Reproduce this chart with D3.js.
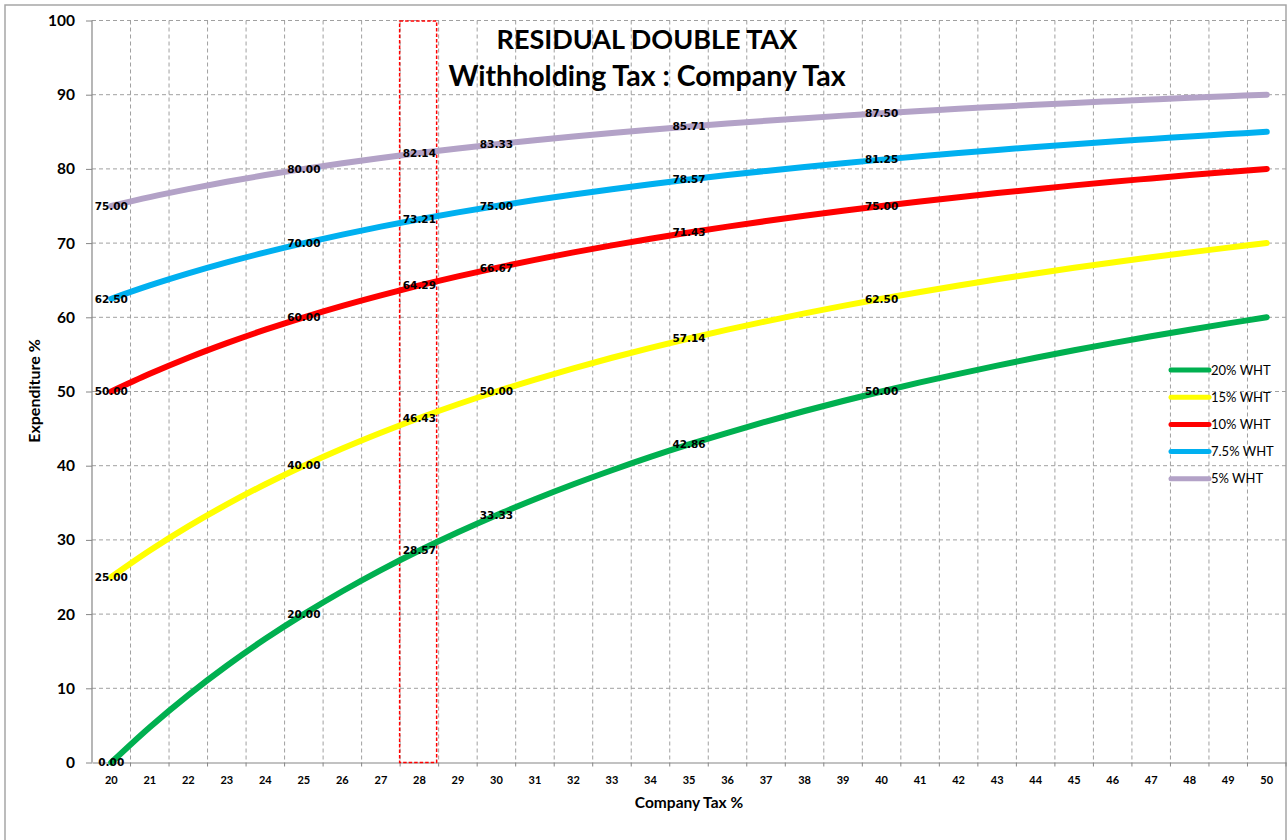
<!DOCTYPE html>
<html>
<head>
<meta charset="utf-8">
<script src="https://cdn.jsdelivr.net/npm/d3@7"></script>
<style>
  html, body { margin: 0; padding: 0; background: #fff; }
  svg { display: block; }
</style>
</head>
<body>
<svg id="chart" width="1287" height="840"></svg>
<script>
// Company tax rates (x categories)
const companyTax = d3.range(20, 51);

// Residual double tax (% of expenditure) per withholding tax rate
const wht20 = [0.00, 4.76, 9.09, 13.04, 16.67, 20.00, 23.08, 25.93, 28.57, 31.03, 33.33, 35.48, 37.50, 39.39, 41.18, 42.86, 44.44, 45.95, 47.37, 48.72, 50.00, 51.22, 52.38, 53.49, 54.55, 55.56, 56.52, 57.45, 58.33, 59.18, 60.00];
const wht15 = [25.00, 28.57, 31.82, 34.78, 37.50, 40.00, 42.31, 44.44, 46.43, 48.28, 50.00, 51.61, 53.13, 54.55, 55.88, 57.14, 58.33, 59.46, 60.53, 61.54, 62.50, 63.41, 64.29, 65.12, 65.91, 66.67, 67.39, 68.09, 68.75, 69.39, 70.00];
const wht10 = [50.00, 52.38, 54.55, 56.52, 58.33, 60.00, 61.54, 62.96, 64.29, 65.52, 66.67, 67.74, 68.75, 69.70, 70.59, 71.43, 72.22, 72.97, 73.68, 74.36, 75.00, 75.61, 76.19, 76.74, 77.27, 77.78, 78.26, 78.72, 79.17, 79.59, 80.00];
const wht75 = [62.50, 64.29, 65.91, 67.39, 68.75, 70.00, 71.15, 72.22, 73.21, 74.14, 75.00, 75.81, 76.56, 77.27, 77.94, 78.57, 79.17, 79.73, 80.26, 80.77, 81.25, 81.71, 82.14, 82.56, 82.95, 83.33, 83.70, 84.04, 84.38, 84.69, 85.00];
const wht5 = [75.00, 76.19, 77.27, 78.26, 79.17, 80.00, 80.77, 81.48, 82.14, 82.76, 83.33, 83.87, 84.38, 84.85, 85.29, 85.71, 86.11, 86.49, 86.84, 87.18, 87.50, 87.80, 88.10, 88.37, 88.64, 88.89, 89.13, 89.36, 89.58, 89.80, 90.00];

const seriesNames = ["20% WHT", "15% WHT", "10% WHT", "7.5% WHT", "5% WHT"];
const seriesColors = ["#00B050", "#FFFF00", "#FF0000", "#00B0F0", "#B3A2C7"];
const seriesValues = [wht20, wht15, wht10, wht75, wht5];

// Categories that carry a value label
const labelledTax = [20, 25, 28, 30, 35, 40];
// Highlighted company tax rate
const highlightTax = 28;

const yTicks = d3.range(0, 101, 10);

const titleLines = ["RESIDUAL DOUBLE TAX", "Withholding Tax : Company Tax"];

const svg = d3.select("#chart");
const uiFont = "Lato, 'Open Sans', sans-serif";
const labelFont = "'DejaVu Sans', Verdana, sans-serif";

const plot = { left: 92, right: 1286, top: 20.5, bottom: 762.5 };

const x = d3.scaleBand().domain(companyTax).range([plot.left, plot.right]).paddingInner(0).paddingOuter(0);
const y = d3.scaleLinear().domain([0, 100]).range([plot.bottom, plot.top]);
const cx = d => x(d) + x.bandwidth() / 2;

// Outer chart frame
svg.append("rect")
  .attr("x", 5).attr("y", 5).attr("width", 1281).attr("height", 850)
  .attr("fill", "#fff").attr("stroke", "#a6a6a6").attr("stroke-width", 1.5);

// Horizontal gridlines
svg.append("g").selectAll("line").data(yTicks.filter(t => t > 0)).join("line")
  .attr("x1", plot.left).attr("x2", plot.right)
  .attr("y1", d => y(d)).attr("y2", d => y(d))
  .attr("stroke", "#a0a0a0").attr("stroke-width", 1).attr("stroke-dasharray", "4,3");

// Vertical gridlines on category boundaries
svg.append("g").selectAll("line").data(companyTax.slice(1)).join("line")
  .attr("x1", d => x(d)).attr("x2", d => x(d))
  .attr("y1", plot.top).attr("y2", plot.bottom)
  .attr("stroke", "#a0a0a0").attr("stroke-width", 1).attr("stroke-dasharray", "4,3");

// Axes
const xAxis = d3.axisBottom(x).tickSize(0).tickPadding(14);
const gx = svg.append("g").attr("transform", `translate(0,${plot.bottom})`).call(xAxis);
gx.select(".domain").attr("stroke", "#868686").attr("stroke-width", 1.2);
gx.selectAll("text").attr("font-family", uiFont).attr("font-weight", "bold").attr("font-size", 11).attr("fill", "#000");
// tick marks on the category boundaries
svg.append("g").selectAll("line").data(companyTax.slice(1).concat([null])).join("line")
  .attr("x1", d => d === null ? plot.right : x(d)).attr("x2", d => d === null ? plot.right : x(d))
  .attr("y1", plot.bottom).attr("y2", plot.bottom + 4)
  .attr("stroke", "#868686").attr("stroke-width", 1);

const yAxis = d3.axisLeft(y).tickValues(yTicks).tickSize(6).tickPadding(11);
const gy = svg.append("g").attr("transform", `translate(${plot.left},0)`).call(yAxis);
gy.select(".domain").attr("stroke", "#868686").attr("stroke-width", 1.2).attr("d", `M0,${plot.top}V${plot.bottom}`);
gy.selectAll(".tick line").attr("stroke", "#868686");
gy.selectAll("text").attr("font-family", uiFont).attr("font-weight", "bold").attr("font-size", 15.5).attr("fill", "#000");

// Highlight box around the selected company tax rate
svg.append("rect")
  .attr("x", x(highlightTax) - 0.5)
  .attr("y", plot.top + 0.5)
  .attr("width", x.bandwidth() - 1.5)
  .attr("height", plot.bottom - plot.top - 0.5)
  .attr("fill", "none").attr("stroke", "#FF0000").attr("stroke-width", 1.5).attr("stroke-dasharray", "3.5,2");

// Series lines
const line = d3.line()
  .x((d, i) => cx(companyTax[i]))
  .y(d => y(d))
  .curve(d3.curveCatmullRom.alpha(0.5));

svg.append("g").selectAll("path").data(seriesValues).join("path")
  .attr("d", d => line(d))
  .attr("fill", "none")
  .attr("stroke", (d, i) => seriesColors[i])
  .attr("stroke-width", 6)
  .attr("stroke-linecap", "round")
  .attr("stroke-linejoin", "round");

// Value labels
const labelData = [];
seriesValues.forEach((vals, s) => {
  labelledTax.forEach(t => {
    const v = vals[companyTax.indexOf(t)];
    labelData.push({ t, v });
  });
});
svg.append("g").selectAll("text").data(labelData).join("text")
  .attr("x", d => cx(d.t))
  .attr("y", d => y(d.v))
  .attr("dy", "0.36em")
  .attr("text-anchor", "middle")
  .attr("font-family", labelFont)
  .attr("font-weight", "bold")
  .attr("font-size", 10.5)
  .attr("fill", "#000")
  .text(d => d.v.toFixed(2));

// Title
const titleSizes = [27, 28.5];
svg.append("g").selectAll("text").data(titleLines).join("text")
  .attr("x", 647)
  .attr("y", (d, i) => 49 + i * 37)
  .attr("text-anchor", "middle")
  .attr("font-family", uiFont)
  .attr("font-weight", "bold")
  .attr("font-size", (d, i) => titleSizes[i])
  .attr("fill", "#000")
  .text(d => d);

// Axis titles
svg.append("text")
  .attr("x", 689).attr("y", 808)
  .attr("text-anchor", "middle")
  .attr("font-family", uiFont).attr("font-weight", "bold").attr("font-size", 15.5)
  .text("Company Tax %");

svg.append("text")
  .attr("transform", "translate(40,391) rotate(-90)")
  .attr("text-anchor", "middle")
  .attr("font-family", uiFont).attr("font-weight", "bold").attr("font-size", 16)
  .text("Expenditure %");

// Legend
const legend = svg.append("g").selectAll("g").data(seriesNames).join("g")
  .attr("transform", (d, i) => `translate(1171,${370 + i * 27.2})`);
legend.append("line")
  .attr("x1", 0).attr("x2", 38).attr("y1", 0).attr("y2", 0)
  .attr("stroke", (d, i) => seriesColors[i]).attr("stroke-width", 5).attr("stroke-linecap", "round");
legend.append("text")
  .attr("x", 40).attr("y", 0).attr("dy", "0.35em")
  .attr("font-family", uiFont).attr("font-size", 13).attr("fill", "#000")
  .text(d => d);
</script>
</body>
</html>
